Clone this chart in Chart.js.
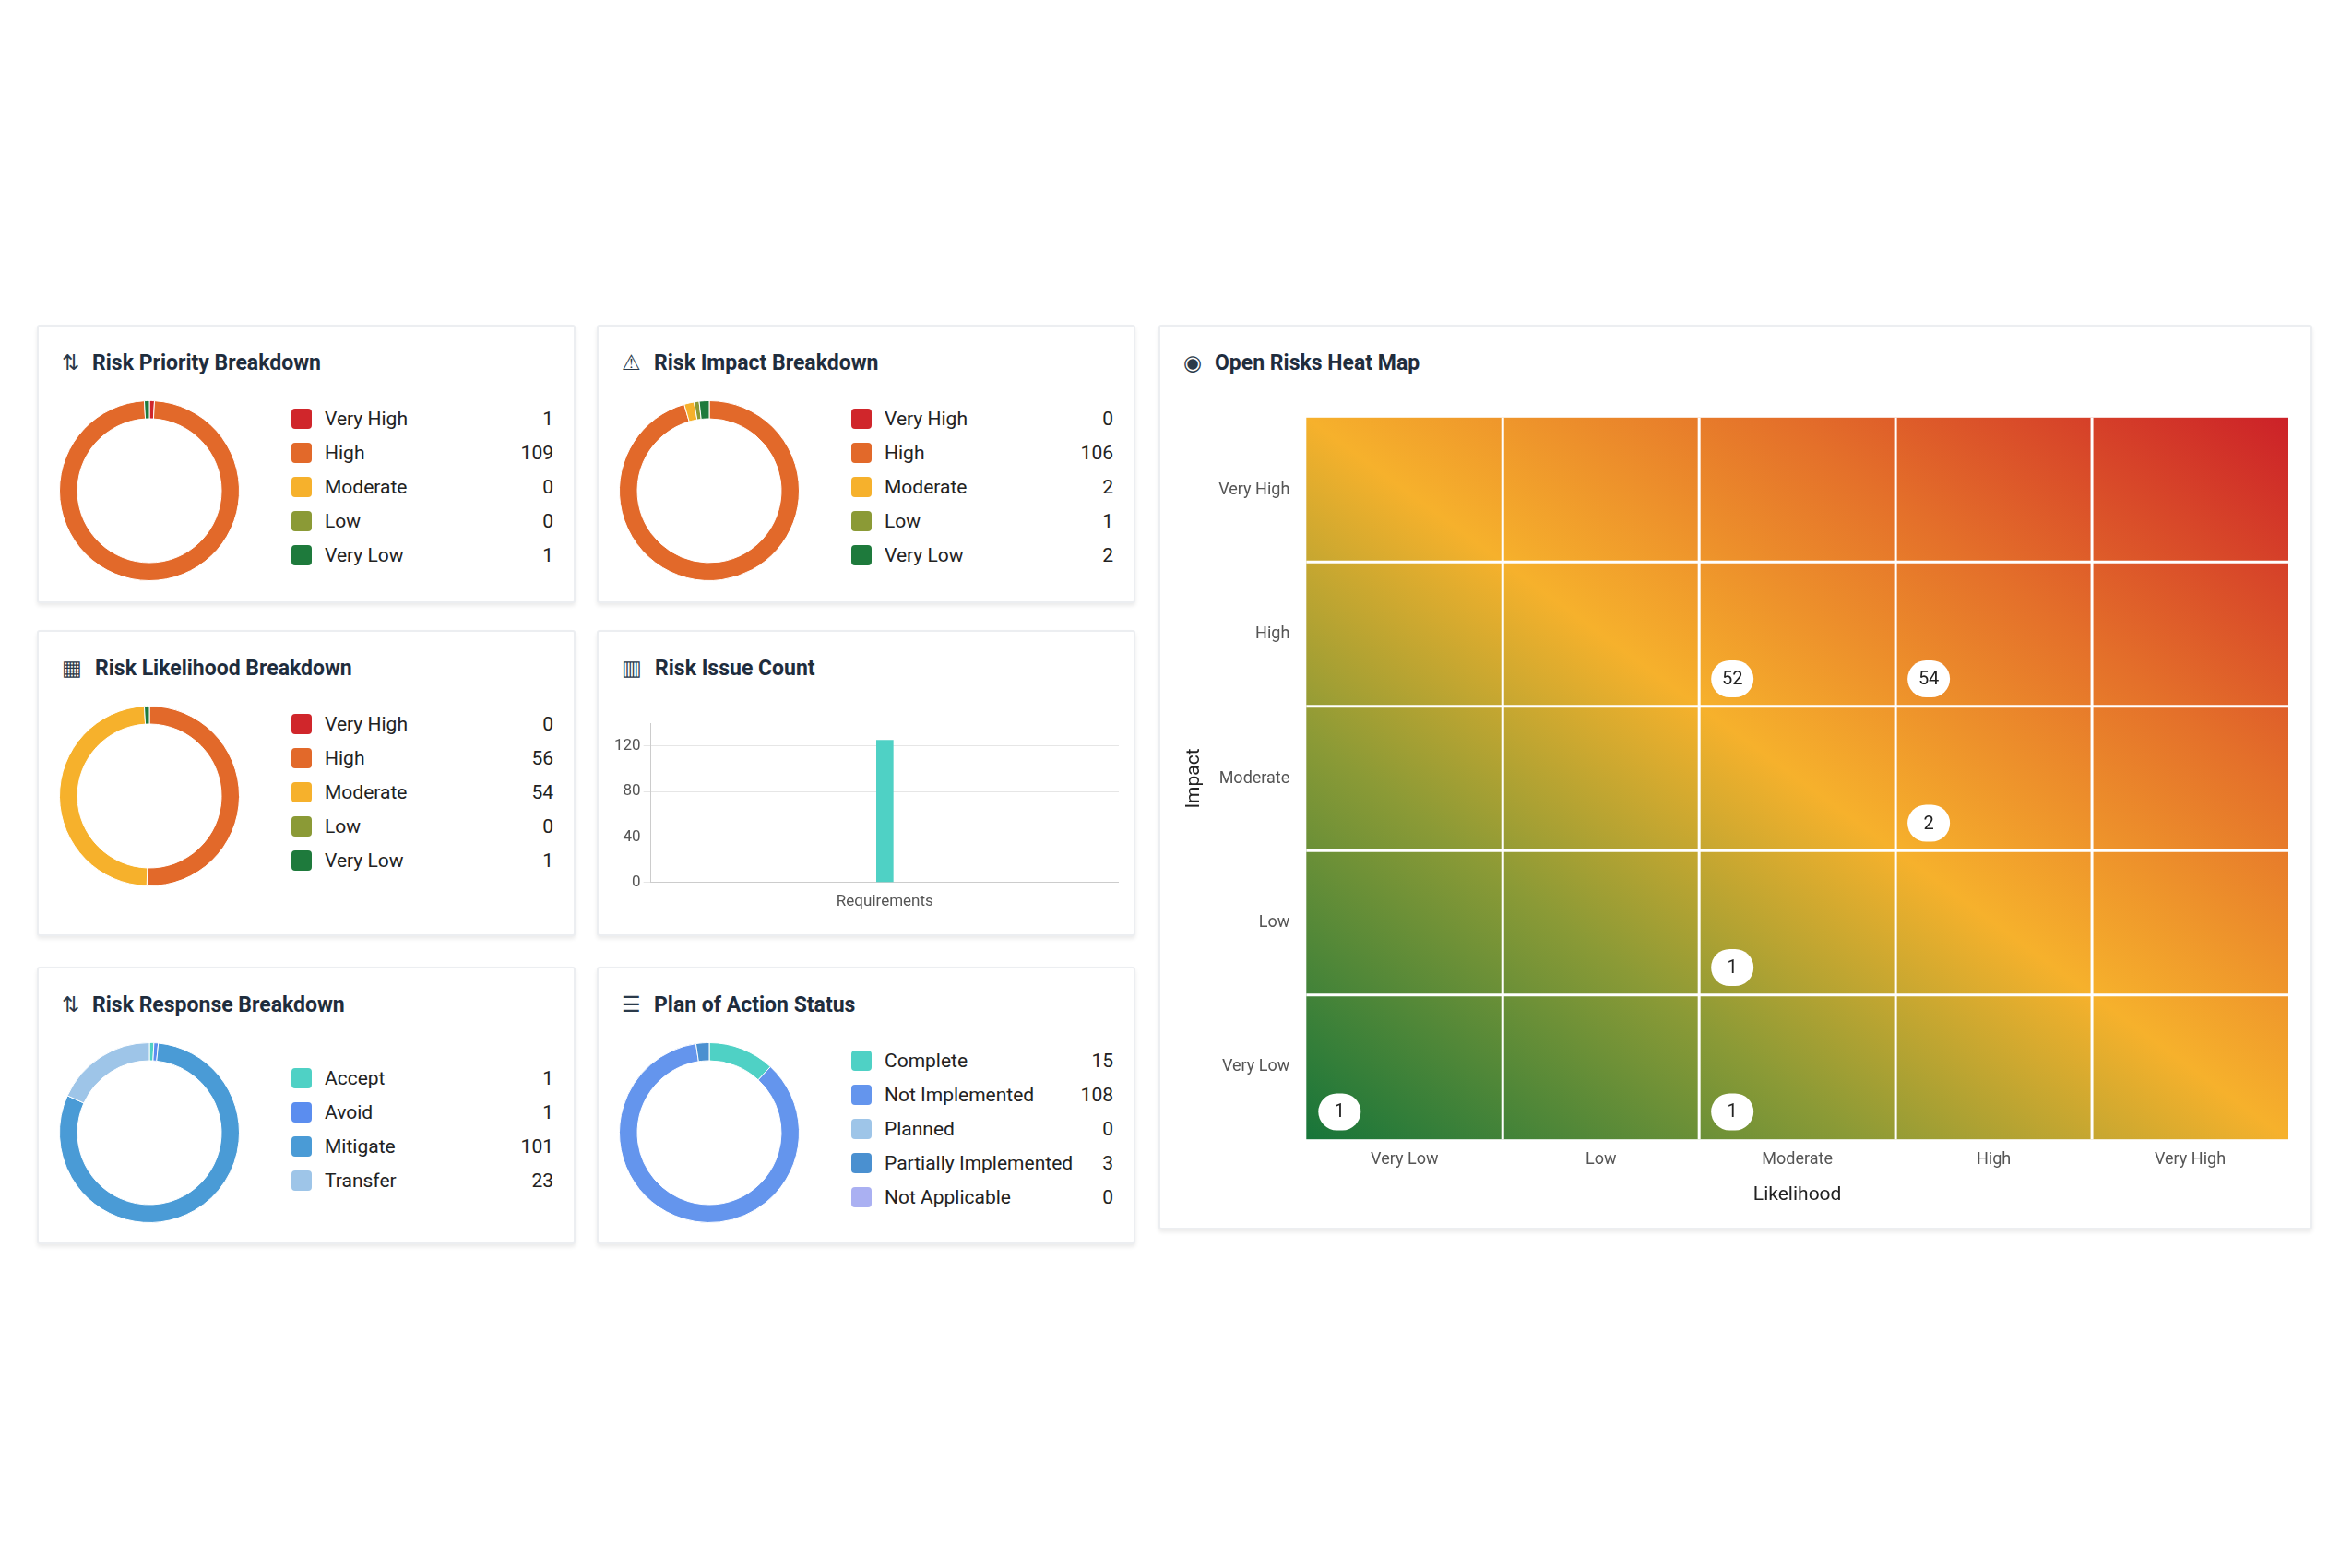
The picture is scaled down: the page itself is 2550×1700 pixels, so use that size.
<!DOCTYPE html>
<html lang="en">
<head>
<meta charset="UTF-8">
<title>Risk Dashboard</title>
<script src="https://cdn.jsdelivr.net/npm/chart.js@4.4.0/dist/chart.umd.min.js"></script>
<style>
    body { margin: 0; width: 2550px; height: 1700px; background: #fff; font-family: Roboto, "Noto Sans", sans-serif; position: relative; }
    .panel { position: absolute; box-sizing: border-box; background: #fff; border: 2px solid #eceef1; box-shadow: 0 3px 4px rgba(0,0,0,0.08); border-radius: 3px; }
    .title { position: absolute; left: 25px; top: 26px; font-size: 23px; font-weight: 700; color: #1f2d3d; }
    .title span { font-weight: 400; margin-right: 14px; color: #2b3a4a; }
    .donut { position: absolute; left: 22px; top: 80px; width: 196px; height: 196px; }
    .legend { position: absolute; left: 274px; width: 284px; font-size: 21px; color: #222; }
    .row { display: flex; align-items: center; height: 37px; }
    .sw { width: 22px; height: 22px; border-radius: 4px; margin-right: 14px; }
    .row .lbl { flex: 1; }
    .row .val { text-align: right; }
</style>
</head>
<body>
<script>
// data
const levels = ['Very High', 'High', 'Moderate', 'Low', 'Very Low'];
const levelColors = ['#d0262b', '#e2692a', '#f6b12c', '#8b9a36', '#1e7a3c'];
const priorityValues = [1, 109, 0, 0, 1];
const impactValues = [0, 106, 2, 1, 2];
const likelihoodValues = [0, 56, 54, 0, 1];
const responseLabels = ['Accept', 'Avoid', 'Mitigate', 'Transfer'];
const responseValues = [1, 1, 101, 23];
const responseColors = ['#4fd1c5', '#5b8def', '#4a9bd6', '#9ec5e8'];
const poaLabels = ['Complete', 'Not Implemented', 'Planned', 'Partially Implemented', 'Not Applicable'];
const poaValues = [15, 108, 0, 3, 0];
const poaColors = ['#4fd1c5', '#6495ed', '#9ec5e8', '#4a90d0', '#aab0f2'];
const issueLabels = ['Requirements'];
const issueValues = [125];
const heatX = ['Very Low', 'Low', 'Moderate', 'High', 'Very High'];
const heatY = ['Very High', 'High', 'Moderate', 'Low', 'Very Low'];
const heatPoints = [
    { x: 'Moderate', y: 'High', v: 52 },
    { x: 'High', y: 'High', v: 54 },
    { x: 'High', y: 'Moderate', v: 2 },
    { x: 'Moderate', y: 'Low', v: 1 },
    { x: 'Very Low', y: 'Very Low', v: 1 },
    { x: 'Moderate', y: 'Very Low', v: 1 }
];

Chart.defaults.font.family = 'Roboto, "Noto Sans", sans-serif';
Chart.defaults.color = '#555';

function panel(left, top, w, h, icon, title) {
    const d = document.createElement('div');
    d.className = 'panel';
    d.style.cssText = `left:${left}px;top:${top}px;width:${w}px;height:${h}px`;
    d.innerHTML = `<div class="title"><span>${icon}</span>${title}</div>`;
    document.body.appendChild(d);
    return d;
}

function donutPanel(left, top, h, icon, title, labels, values, colors) {
    const p = panel(left, top, 584, h, icon, title);
    const c = document.createElement('canvas');
    c.className = 'donut';
    p.appendChild(c);
    const lg = document.createElement('div');
    lg.className = 'legend';
    lg.style.top = (labels.length === 4 ? 100 : 81) + 'px';
    labels.forEach((l, i) => {
        lg.innerHTML += `<div class="row"><div class="sw" style="background:${colors[i]}"></div><div class="lbl">${l}</div><div class="val">${values[i]}</div></div>`;
    });
    p.appendChild(lg);
    new Chart(c, {
        type: 'doughnut',
        data: { labels: labels, datasets: [{ data: values, backgroundColor: colors, borderColor: '#fff', borderWidth: 1 }] },
        options: { responsive: false, animation: false, cutout: '80%', plugins: { legend: { display: false }, tooltip: { enabled: false } } }
    });
}

donutPanel(40, 352, 302, '⇅', 'Risk Priority Breakdown', levels, priorityValues, levelColors);
donutPanel(647, 352, 302, '⚠', 'Risk Impact Breakdown', levels, impactValues, levelColors);
donutPanel(40, 683, 332, '▦', 'Risk Likelihood Breakdown', levels, likelihoodValues, levelColors);
donutPanel(40, 1048, 301, '⇅', 'Risk Response Breakdown', responseLabels, responseValues, responseColors);
donutPanel(647, 1048, 301, '☰', 'Plan of Action Status', poaLabels, poaValues, poaColors);

// bar chart
const bp = panel(647, 683, 584, 332, '▥', 'Risk Issue Count');
const bc = document.createElement('canvas');
bc.style.cssText = 'position:absolute;left:14px;top:86px;width:550px;height:220px';
bc.width = 550; bc.height = 220;
bp.appendChild(bc);
new Chart(bc, {
    type: 'bar',
    data: { labels: issueLabels, datasets: [{ data: issueValues, backgroundColor: '#4fd1c5', barThickness: 18 }] },
    options: {
        responsive: false, animation: false,
        plugins: { legend: { display: false } },
        scales: {
            x: { grid: { display: false }, border: { color: '#ccc' }, ticks: { font: { size: 17 }, color: '#555' } },
            y: { min: 0, max: 140, ticks: { stepSize: 40, font: { size: 17 }, color: '#555', callback: v => v <= 120 ? v : '' },
                 grid: { color: ctx => ctx.tick.value > 120 ? 'transparent' : '#e6e6e6' }, border: { color: '#ccc' } }
        }
    }
});

// heat map
const hp = panel(1256, 352, 1251, 981, '◉', 'Open Risks Heat Map');
const hc = document.createElement('canvas');
hc.style.cssText = 'position:absolute;left:0;top:78px;width:1247px;height:880px';
hc.width = 1247; hc.height = 880;
hp.appendChild(hc);

const heatBg = {
    id: 'heatBg',
    beforeDatasetsDraw(chart) {
        const a = chart.chartArea, ctx = chart.ctx;
        const W = a.right - a.left, H = a.bottom - a.top;
        // isolines parallel to the top-left / bottom-right diagonal
        const k = 2 * W * H / (W * W + H * H);
        const g = ctx.createLinearGradient(a.left, a.bottom, a.left + H * k, a.bottom - W * k);
        g.addColorStop(0, '#17753a');
        g.addColorStop(0.28, '#8b9a36');
        g.addColorStop(0.5, '#f6b12c');
        g.addColorStop(0.74, '#e4702a');
        g.addColorStop(1, '#cc2128');
        ctx.save();
        ctx.fillStyle = g;
        ctx.fillRect(a.left, a.top, W, H);
        ctx.strokeStyle = '#fff';
        ctx.lineWidth = 3;
        const cw = W / 5, ch = H / 5;
        for (let i = 1; i < 5; i++) {
            ctx.beginPath(); ctx.moveTo(a.left + i * cw, a.top); ctx.lineTo(a.left + i * cw, a.bottom); ctx.stroke();
            ctx.beginPath(); ctx.moveTo(a.left, a.top + i * ch); ctx.lineTo(a.right, a.top + i * ch); ctx.stroke();
        }
        // count pills
        const xs = chart.scales.x, ys = chart.scales.y;
        ctx.font = '20px Roboto';
        ctx.textAlign = 'center'; ctx.textBaseline = 'middle';
        heatPoints.forEach(p => {
            const cx = xs.getPixelForValue(heatX.indexOf(p.x)) - cw / 2 + 36;
            const cy = ys.getPixelForValue(heatY.indexOf(p.y)) + ch * 0.31;
            const w = 46, h = 40;
            ctx.fillStyle = '#fff';
            ctx.beginPath();
            ctx.roundRect(cx - w / 2, cy - h / 2, w, h, 20);
            ctx.fill();
            ctx.fillStyle = '#222';
            ctx.fillText(p.v, cx, cy + 1);
        });
        ctx.restore();
    }
};

new Chart(hc, {
    type: 'scatter',
    data: { datasets: [{ data: heatPoints, pointRadius: 0 }] },
    plugins: [heatBg],
    options: {
        responsive: false, animation: false,
        layout: { padding: { right: 24, top: 0, left: 20 } },
        plugins: { legend: { display: false }, tooltip: { enabled: false } },
        scales: {
            x: { type: 'category', labels: heatX, offset: true, grid: { display: false }, border: { display: false },
                 ticks: { font: { size: 18 }, color: '#555' },
                 title: { display: true, text: 'Likelihood', font: { size: 21 }, color: '#222', padding: { top: 12 } } },
            y: { type: 'category', labels: heatY, offset: true, grid: { display: false }, border: { display: false },
                 ticks: { font: { size: 18 }, color: '#555', padding: 10 },
                 title: { display: true, text: 'Impact', font: { size: 21 }, color: '#222' } }
        }
    }
});
</script>
</body>
</html>
